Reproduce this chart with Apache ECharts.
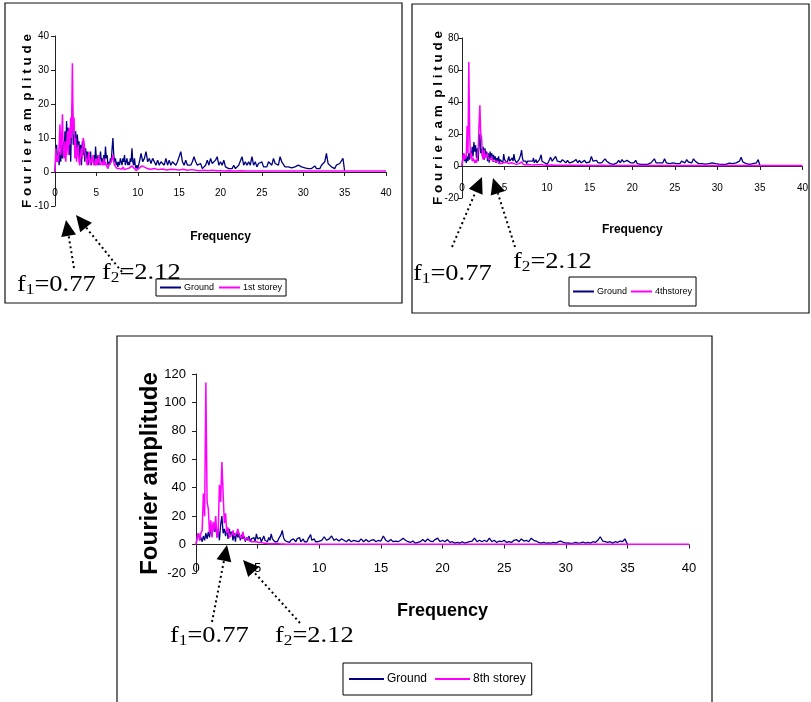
<!DOCTYPE html>
<html><head><meta charset="utf-8">
<script src="https://cdn.jsdelivr.net/npm/echarts@6/dist/echarts.min.js"></script>
<style>html,body{margin:0;padding:0;background:#fff}#c{width:811px;height:702px}</style>
</head><body><div id="c"></div>
<script>
// ---- Ground record: 0.0 .. 10.0 Hz every 0.1 Hz ----
const groundLow = [
  0, 5, 8, 3, 5, 2, 6, 3, 8, 4,
  9, 5, 12, 6, 15, 9, 13, 5, 11, 3,
  14, 20, 8, 11, 6, 12, 4, 11, 7, 9,
  3, 8, 2, 9, 5, 8, 3, 7, 4, 6,
  2, 5, 3, 6, 2, 4, 3, 5, 2, 7.5,
  4, 3, 5, 2, 4, 6, 3, 4, 2, 5,
  3, 7.5, 4, 5, 2, 3, 2, 4, 3, 7,
  10, 5, 3, 4, 2, 3, 1.5, 3, 2, 4,
  3, 2, 4, 3, 5, 2, 3, 4, 2, 3,
  2, 4, 3, 7, 3, 2, 4, 2, 1, 2,
  1
];
// ---- Ground record: 10.2 .. 35.0 Hz every 0.2 Hz ----
const groundHigh = [
  3, 5.5, 3, 4, 6,
  3, 4, 2.5, 4, 3,
  2, 3.5, 2, 3, 2.5,
  2, 4, 2, 3.5, 2,
  3, 3.5, 2, 3, 2.5,
  6, 3, 2, 3.5, 2,
  2.5, 2, 3, 4.5, 3,
  2, 1.5, 2.5, 1, 1.5,
  2, 3.5, 2, 4, 2.5,
  2, 3.5, 4.5, 2, 3,
  2, 3.5, 1.5, 2, 1,
  1.5, 1, 2, 1, 1.5,
  2, 2.5, 4.5, 2, 3,
  2, 3, 2, 4.5, 2,
  3, 1.5, 2.5, 2, 3,
  1.5, 2, 1.5, 3, 3.5,
  2, 4, 2.5, 3, 2,
  4.5, 3, 2.5, 1.5, 1,
  1.5, 1, 1.2, 1, 1.5,
  1, 2, 2.5, 1.5, 1,
  1.2, 0.8, 1, 1.5, 1,
  1.2, 1.8, 1, 1.5, 1,
  2, 1.5, 3, 5.5, 2.5,
  2, 1.5, 2, 1, 2,
  1.5, 2.5, 2, 4, 0.3
];
// ---- Storey records: 0.0 .. 10.0 Hz every 0.1 Hz ----
const storey1Low = [
  0, 7, 3, 5, 3, 8, 14, 5, 10, 17,
  6, 4, 9, 3, 7, 12, 5, 13, 8, 16,
  10, 32, 12, 16, 4, 10, 3, 6, 8, 3,
  2, 5, 7, 4, 10, 9, 6, 5, 3, 2,
  4, 6, 3, 2, 4, 3, 5, 2, 3, 2,
  4, 2, 3, 5, 3, 2, 1.5, 3, 2, 4,
  2, 3, 2, 1.5, 1, 2, 1.5, 2, 3, 4,
  5, 3, 2, 2, 1.5, 1, 1, 1.5, 1, 0.8,
  1.2, 0.8, 1.5, 1, 0.7, 1.2, 0.8, 1, 0.6, 1,
  1.2, 0.8, 1.5, 1.8, 2.2, 1.5, 1, 0.6, 0.4, 0.3,
  0.3
];
const storey4Low = [
  0, 5, 8, 4, 7, 5, 25, 8, 65, 20,
  5, 8, 3, 5, 6, 2, 4, 2, 5, 10,
  25, 38, 20, 18, 6, 4, 10, 5, 4, 6,
  8, 4, 3, 5, 4, 6, 3, 2, 2, 3,
  3, 2, 3, 1.5, 2, 2, 1.5, 2.5, 1.5, 2,
  2, 1.5, 2.5, 1.5, 2, 1.5, 2, 1.2, 2, 1.5,
  2, 1.5, 1.2, 1.5, 1, 1.5, 1, 1.5, 1, 2,
  2.5, 1.5, 1, 1.2, 1, 0.8, 1, 0.8, 1, 0.8,
  1, 0.8, 0.7, 0.9, 0.7, 0.8, 0.7, 0.8, 0.6, 0.7,
  0.8, 0.6, 0.9, 1, 0.8, 0.7, 0.6, 0.5, 0.5, 0.5,
  0.5
];
const storey8Low = [
  0, 5, 8, 3, 8, 10, 36, 20, 114, 30,
  25, 8, 17, 5, 16, 10, 20, 5, 8, 42,
  30, 58, 36, 15, 22, 8, 12, 5, 4, 7,
  10, 6, 5, 8, 11, 7, 6, 4, 9, 5,
  3, 4, 5, 3, 2, 2, 3, 2, 1.5, 2,
  2, 1.5, 1, 1.5, 1, 1, 0.8, 1, 0.7, 0.6,
  0.6, 0.5, 0.7, 0.5, 0.4, 0.5, 0.4, 0.5, 0.4, 0.4,
  0.5, 0.4, 0.4, 0.3, 0.4, 0.3, 0.4, 0.3, 0.3, 0.4,
  0.3, 0.3, 0.3, 0.3, 0.3, 0.3, 0.3, 0.3, 0.3, 0.3,
  0.3, 0.3, 0.3, 0.3, 0.3, 0.3, 0.3, 0.3, 0.3, 0.3,
  0.3
];
// ---- Storey records: 10.5 .. 40.0 Hz every 0.5 Hz ----
const storey1Tail = [
  1.8, 1.2, 0.8, 1, 0.7, 0.9, 0.6, 0.8, 0.7, 0.6,
  0.8, 0.5, 0.7, 0.5, 0.4, 0.5, 0.4, 0.5, 0.4, 0.4,
  0.3, 0.4, 0.3, 0.3, 0.4, 0.3, 0.3, 0.3, 0.3, 0.3,
  0.3, 0.3, 0.3, 0.3, 0.3, 0.3, 0.3, 0.3, 0.3, 0.3,
  0.3, 0.3, 0.3, 0.3, 0.3, 0.3, 0.3, 0.3, 0.3, 0.3,
  0.3, 0.3, 0.3, 0.3, 0.3, 0.3, 0.3, 0.3, 0.3, 0.3
];
const storey4Tail = [
  0.6, 0.5, 0.5, 0.4, 0.5, 0.4, 0.4, 0.4, 0.3, 0.4,
  0.3, 0.3, 0.4, 0.3, 0.3, 0.3, 0.3, 0.3, 0.3, 0.3,
  0.3, 0.3, 0.3, 0.3, 0.3, 0.3, 0.3, 0.3, 0.3, 0.3,
  0.3, 0.3, 0.3, 0.3, 0.3, 0.3, 0.3, 0.3, 0.3, 0.3,
  0.3, 0.3, 0.3, 0.3, 0.3, 0.3, 0.3, 0.3, 0.3, 0.3,
  0.3, 0.3, 0.3, 0.3, 0.3, 0.3, 0.3, 0.3, 0.3, 0.3
];
const storey8Tail = [
  0.3, 0.3, 0.3, 0.3, 0.3, 0.3, 0.3, 0.3, 0.3, 0.3,
  0.3, 0.3, 0.3, 0.3, 0.3, 0.3, 0.3, 0.3, 0.3, 0.3,
  0.3, 0.3, 0.3, 0.3, 0.3, 0.3, 0.3, 0.3, 0.3, 0.3,
  0.3, 0.3, 0.3, 0.3, 0.3, 0.3, 0.3, 0.3, 0.3, 0.3,
  0.3, 0.3, 0.3, 0.3, 0.3, 0.3, 0.3, 0.3, 0.3, 0.3,
  0.3, 0.3, 0.3, 0.3, 0.3, 0.3, 0.3, 0.3, 0.3, 0.3
];
const seriesNames = ['Ground', '1st storey', '4thstorey', '8th storey'];
const xTicks = { min: 0, max: 40, interval: 5 };
const yRanges = [
  { min: -10, max: 40, interval: 10 },
  { min: -20, max: 80, interval: 20 },
  { min: -20, max: 120, interval: 20 }
];
const annotationTexts = ['0.77', '2.12'];

// ---- build pairs ----
function pairs(vals, start, step) {
  return vals.map((v, i) => [Math.round((start + i * step) * 100) / 100, v]);
}
const ground = pairs(groundLow, 0, 0.1).concat(pairs(groundHigh, 10.2, 0.2));
const st1 = pairs(storey1Low, 0, 0.1).concat(pairs(storey1Tail, 10.5, 0.5));
const st4 = pairs(storey4Low, 0, 0.1).concat(pairs(storey4Tail, 10.5, 0.5));
const st8 = pairs(storey8Low, 0, 0.1).concat(pairs(storey8Tail, 10.5, 0.5));

const SANS = "'Liberation Sans',Arial,sans-serif";
const SERIF = "'Liberation Serif','Times New Roman',serif";
const NAVY = '#000080', MAG = '#ff00ff';

const panels = [
  { grid: { left: 55, top: 36, width: 331, height: 170 }, lab: { size: 10, xm: -18, ym: 6 },
    xname: { size: 12, gap: 25 }, yname: { text: 'F o u r i e r  a m  p l i t u d e', size: 13.5, gap: 21 },
    legend: { left: 156, top: 279, pad: [4, 4], iw: 21, gap: 5, fs: 9 } },
  { grid: { left: 462, top: 38, width: 342, height: 160 }, lab: { size: 10, xm: -15, ym: 3 },
    xname: { size: 12, gap: 26 }, yname: { text: 'F o u r i e r  a m  p l i t u d e', size: 13.5, gap: 17 },
    legend: { left: 569, top: 277, pad: [10, 4], iw: 21, gap: 4, fs: 9 } },
  { grid: { left: 196, top: 374, width: 493, height: 199 }, lab: { size: 13, xm: -11.5, ym: 10 },
    xname: { size: 18, gap: 29 }, yname: { text: 'Fourier amplitude', size: 24, gap: 34 },
    legend: { left: 343, top: 663, pad: [10, 6], iw: 35, gap: 8, fs: 12 } }
];
const storeyData = [st1, st4, st8];

const grid = [], xAxis = [], yAxis = [], series = [], legend = [];
panels.forEach((p, i) => {
  grid.push(Object.assign({ containLabel: false }, p.grid));
  xAxis.push({
    type: 'value', gridIndex: i, min: xTicks.min, max: xTicks.max, interval: xTicks.interval,
    name: 'Frequency', nameLocation: 'middle', nameGap: p.xname.gap, nameMoveOverlap: false,
    nameTextStyle: { fontFamily: SANS, fontSize: p.xname.size, fontWeight: 'bold', color: '#000' },
    axisLine: { onZero: true, lineStyle: { color: '#222', width: 1 } },
    axisTick: { show: true, length: 4, lineStyle: { color: '#222' } },
    axisLabel: { fontFamily: SANS, fontSize: p.lab.size, color: '#000', margin: p.lab.xm, showMinLabel: true, showMaxLabel: true },
    splitLine: { show: false }
  });
  yAxis.push({
    type: 'value', gridIndex: i, min: yRanges[i].min, max: yRanges[i].max, interval: yRanges[i].interval,
    name: p.yname.text, nameLocation: 'middle', nameRotate: 90, nameGap: p.yname.gap, nameMoveOverlap: false,
    nameTextStyle: { fontFamily: SANS, fontSize: p.yname.size, fontWeight: 'bold', color: '#000' },
    axisLine: { show: true, onZero: false, lineStyle: { color: '#222', width: 1 } },
    axisTick: { show: true, length: 4, lineStyle: { color: '#222' } },
    axisLabel: { fontFamily: SANS, fontSize: p.lab.size, color: '#000', margin: p.lab.ym },
    splitLine: { show: false }
  });
  series.push({
    name: seriesNames[0], type: 'line', xAxisIndex: i, yAxisIndex: i, data: ground,
    showSymbol: false, symbol: 'none', lineStyle: { color: NAVY, width: 1.3 }, itemStyle: { color: NAVY }, z: 2
  });
  series.push({
    name: seriesNames[i + 1], type: 'line', xAxisIndex: i, yAxisIndex: i, data: storeyData[i],
    showSymbol: false, symbol: 'none', lineStyle: { color: MAG, width: 1.5 }, itemStyle: { color: MAG }, z: 3
  });
  legend.push({
    data: [seriesNames[0], seriesNames[i + 1]], left: p.legend.left, top: p.legend.top,
    orient: 'horizontal', icon: 'rect', itemWidth: p.legend.iw, itemHeight: 2, itemGap: p.legend.gap,
    padding: p.legend.pad, borderColor: '#000', borderWidth: 1, backgroundColor: '#fff',
    textStyle: { fontFamily: SANS, fontSize: p.legend.fs, color: '#000', padding: [0, 0, 0, -2] },
    selectedMode: false
  });
});

// ---- annotation graphics (panel frames, dotted arrows, f1/f2 labels) ----
const graphic = [];
[[5, 3, 397, 300], [412, 4, 397, 309], [117, 336, 595, 380]].forEach(r => {
  graphic.push({ type: 'rect', shape: { x: r[0], y: r[1], width: r[2], height: r[3] },
    style: { fill: 'none', stroke: '#111', lineWidth: 1.2 }, z: -1, silent: true });
});
function arrow(sx, sy, tx, ty) {
  const L = 16, W = 7.5;
  const dx = tx - sx, dy = ty - sy, len = Math.hypot(dx, dy);
  const ux = dx / len, uy = dy / len;
  const bx = tx - ux * L, by = ty - uy * L;
  graphic.push({ type: 'line', shape: { x1: sx, y1: sy, x2: bx, y2: by },
    style: { stroke: '#000', lineWidth: 2, lineDash: [2, 3] }, z: 50, silent: true });
  graphic.push({ type: 'polygon', shape: { points: [[tx, ty], [bx - uy * W, by + ux * W], [bx + uy * W, by - ux * W]] },
    style: { fill: '#000' }, z: 50, silent: true });
}
function fLabel(x, cy, sub, val) {
  graphic.push({ type: 'text', x: x, y: cy, scaleX: 1.15, z: 60, silent: true,
    style: { text: 'f{s|' + sub + '}=' + val, fontFamily: SERIF, fontSize: 23, lineHeight: 26, fill: '#000',
      textAlign: 'left', textVerticalAlign: 'middle', align: 'left', verticalAlign: 'middle',
      rich: { s: { fontFamily: SERIF, fontSize: 15, lineHeight: 15, verticalAlign: 'bottom', fill: '#000' } } } });
}
// panel 1
arrow(74, 268, 66, 220); arrow(122, 272, 76, 215);
fLabel(17, 285, '1', annotationTexts[0]); fLabel(102, 273, '2', annotationTexts[1]);
// panel 2
arrow(452, 247, 482, 177); arrow(515, 247, 493, 178);
fLabel(413, 274, '1', annotationTexts[0]); fLabel(513, 262, '2', annotationTexts[1]);
// panel 3
arrow(212, 622, 227, 545); arrow(300, 623, 243, 560);
fLabel(170, 636, '1', annotationTexts[0]); fLabel(275, 636, '2', annotationTexts[1]);

const chart = echarts.init(document.getElementById('c'), null, { renderer: 'canvas' });
chart.setOption({ animation: false, backgroundColor: '#fff', grid, xAxis, yAxis, series, legend, graphic });
</script></body></html>
